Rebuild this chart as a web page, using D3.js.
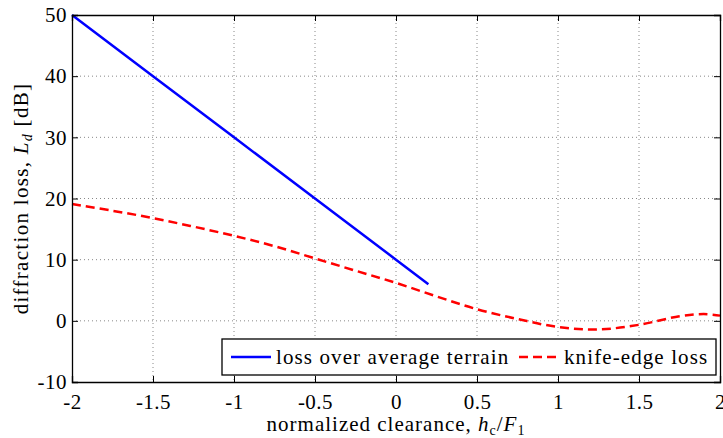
<!DOCTYPE html>
<html>
<head>
<meta charset="utf-8">
<script src="https://cdn.jsdelivr.net/npm/d3@7"></script>
<style>
  body { margin: 0; background: #fff; }
  text { font-family: "Liberation Serif", "DejaVu Serif", serif; fill: #000; }
  .grid line { stroke: #888; stroke-dasharray: 1,3; }
</style>
</head>
<body>
<div id="chart"></div>
<script>
// data
var terrainX = [-2, -1.5, -1, -0.5, 0, 0.2]
var terrainY = [50, 40, 30, 20, 10, 6]

var knifeX = [-2, -1.75, -1.5, -1.25, -1, -0.75, -0.5, -0.25, 0, 0.25, 0.5, 0.75, 1, 1.25, 1.5, 1.75, 1.9, 2]
var knifeY = [19.1, 18.0, 16.8, 15.4, 13.9, 12.2, 10.2, 8.2, 6.2, 4.0, 1.9, 0.3, -1.0, -1.4, -0.65, 0.75, 1.1, 0.85]

var xTicks = [-2, -1.5, -1, -0.5, 0, 0.5, 1, 1.5, 2]
var yTicks = [-10, 0, 10, 20, 30, 40, 50]
var seriesNames = ["loss over average terrain", "knife-edge loss"]

var svgWidth = 723
var svgHeight = 438
var margin = {top: 15, right: 3, bottom: 56, left: 72}
var width = svgWidth - margin.left - margin.right
var height = svgHeight - margin.top - margin.bottom

var svg = d3.select("#chart").append("svg")
  .attr("width", svgWidth)
  .attr("height", svgHeight)

var g = svg.append("g")
  .attr("transform", `translate(${margin.left}, ${margin.top})`)

var x = d3.scaleLinear().domain([-2, 2]).range([0, width])
var y = d3.scaleLinear().domain([-10, 50]).range([height, 0])

// grid
g.append("g").attr("class", "grid")
  .selectAll("line").data(xTicks.slice(1, -1)).enter().append("line")
  .attr("x1", d => x(d)).attr("x2", d => x(d))
  .attr("y1", 0).attr("y2", height)
g.append("g").attr("class", "grid")
  .selectAll("line").data(yTicks.slice(1, -1)).enter().append("line")
  .attr("x1", 0).attr("x2", width)
  .attr("y1", d => y(d)).attr("y2", d => y(d))

// series
var line = d3.line().x(d => x(d[0])).y(d => y(d[1]))
g.append("path")
  .datum(terrainX.map((v, i) => [v, terrainY[i]]))
  .attr("d", line)
  .attr("fill", "none").attr("stroke", "#0000ff").attr("stroke-width", 2.5)

g.append("path")
  .datum(knifeX.map((v, i) => [v, knifeY[i]]))
  .attr("d", line.curve(d3.curveCatmullRom))
  .attr("fill", "none").attr("stroke", "#ff0000").attr("stroke-width", 2.5)
  .attr("stroke-dasharray", "9,5")

// axes (ticks inward, box)
var tickLen = 6
var fmt = d => String(d)
g.append("g").attr("transform", `translate(0, ${height})`)
  .call(d3.axisBottom(x).tickValues(xTicks).tickSize(-tickLen).tickPadding(12).tickFormat(fmt))
g.append("g")
  .call(d3.axisTop(x).tickValues(xTicks).tickSize(-tickLen).tickFormat(""))
g.append("g")
  .call(d3.axisLeft(y).tickValues(yTicks).tickSize(-tickLen).tickPadding(5).tickFormat(fmt))
g.append("g").attr("transform", `translate(${width}, 0)`)
  .call(d3.axisRight(y).tickValues(yTicks).tickSize(-tickLen).tickFormat(""))

g.selectAll(".domain").attr("stroke", "#000").attr("stroke-width", 1.3)
g.selectAll(".tick line").attr("stroke", "#000")
g.selectAll(".tick text")
  .attr("font-size", 21)
  .attr("font-family", "Liberation Serif, DejaVu Serif, serif")
  .attr("letter-spacing", 0.5)

// legend
var legend = g.append("g").attr("transform", `translate(${222 - margin.left}, ${339 - margin.top})`)
legend.append("rect")
  .attr("width", 494).attr("height", 36)
  .attr("fill", "#fff").attr("stroke", "#000").attr("stroke-width", 1.3)
var items = [
  {name: seriesNames[0], color: "#0000ff", dash: null, x0: 9},
  {name: seriesNames[1], color: "#ff0000", dash: "9,5", x0: 297}
]
items.forEach(function(it) {
  legend.append("line")
    .attr("x1", it.x0).attr("x2", it.x0 + 40)
    .attr("y1", 18).attr("y2", 18)
    .attr("stroke", it.color).attr("stroke-width", 2.5)
    .attr("stroke-dasharray", it.dash)
  legend.append("text")
    .attr("x", it.x0 + 45).attr("y", 25)
    .attr("font-size", 21)
    .attr("letter-spacing", 1.1)
    .text(it.name)
})

// axis labels
var xl = svg.append("text")
  .attr("x", margin.left + width / 2).attr("y", 431)
  .attr("text-anchor", "middle").attr("font-size", 21)
  .attr("letter-spacing", 1.0)
xl.append("tspan").text("normalized clearance, ")
xl.append("tspan").attr("font-style", "italic").text("h")
xl.append("tspan").attr("font-size", 14).attr("dy", 4).text("c")
xl.append("tspan").attr("dy", -4).text("/")
xl.append("tspan").attr("font-style", "italic").text("F")
xl.append("tspan").attr("font-size", 14).attr("dy", 4).text("1")

var yl = svg.append("text")
  .attr("transform", `translate(28, ${margin.top + height / 2}) rotate(-90)`)
  .attr("text-anchor", "middle").attr("font-size", 21)
  .attr("letter-spacing", 1.3)
yl.append("tspan").text("diffraction loss, ")
yl.append("tspan").attr("font-style", "italic").text("L")
yl.append("tspan").attr("font-size", 14).attr("dy", 4).attr("font-style", "italic").text("d")
yl.append("tspan").attr("dy", -4).text(" [dB]")
</script>
</body>
</html>
